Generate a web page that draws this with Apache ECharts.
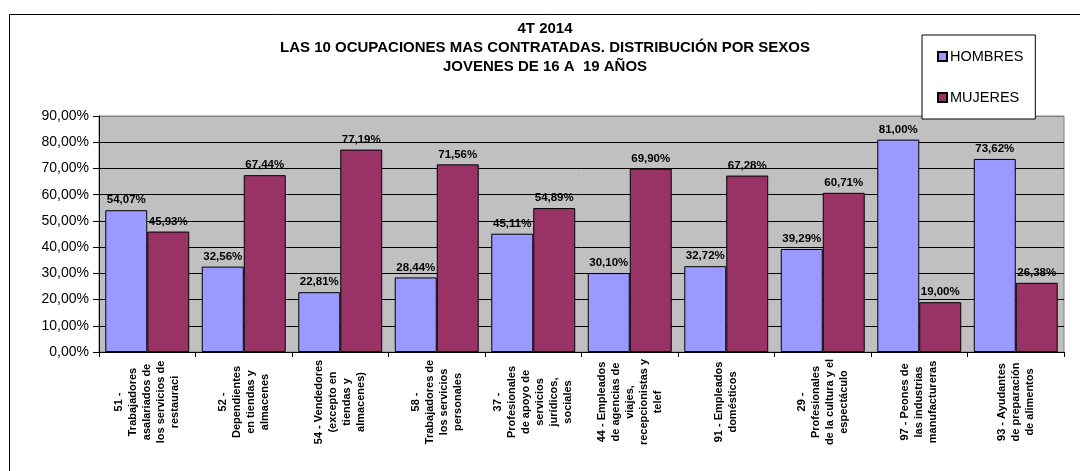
<!DOCTYPE html>
<html>
<head>
<meta charset="utf-8">
<script src="https://cdn.jsdelivr.net/npm/echarts@6/dist/echarts.min.js"></script>
<style>
  html, body { margin: 0; padding: 0; background: #fff; }
  #chart { width: 1080px; height: 471px; }
</style>
</head>
<body>
<div id="chart"></div>
<script>
const categories = [
  '51 -\nTrabajadores\nasalariados de\nlos servicios de\nrestauraci',
  '52 -\nDependientes\nen tiendas y\nalmacenes',
  '54 - Vendedores\n(excepto en\ntiendas y\nalmacenes)',
  '58 -\nTrabajadores de\nlos servicios\npersonales',
  '37 -\nProfesionales\nde apoyo de\nservicios\njurídicos,\nsociales',
  '44 - Empleados\nde agencias de\nviajes,\nrecepcionistas y\ntelef',
  '91 - Empleados\ndomésticos',
  '29 -\nProfesionales\nde la cultura y el\nespectáculo',
  '97 - Peones de\nlas industrias\nmanufactureras',
  '93 - Ayudantes\nde preparación\nde alimentos',
]
const hombres = [54.07, 32.56, 22.81, 28.44, 45.11, 30.10, 32.72, 39.29, 81.00, 73.62]
const mujeres = [45.93, 67.44, 77.19, 71.56, 54.89, 69.90, 67.28, 60.71, 19.00, 26.38]

const FONT = '"Liberation Sans", Arial, sans-serif'
const pct = (v) => v.toFixed(2).replace('.', ',') + '%'

const chart = echarts.init(document.getElementById('chart'), null, { renderer: 'canvas' })

const barLabel = {
  show: true,
  position: 'top',
  distance: 4,
  fontFamily: FONT,
  fontSize: 11.5,
  fontWeight: 'bold',
  color: '#000',
  formatter: (p) => pct(p.value),
}

chart.setOption({
  backgroundColor: '#fff',
  animation: false,
  title: {
    text: '4T 2014\nLAS 10 OCUPACIONES MAS CONTRATADAS. DISTRIBUCIÓN POR SEXOS\nJOVENES DE 16 A  19 AÑOS',
    left: 545,
    top: 19,
    textAlign: 'center',
    padding: 0,
    textStyle: { fontFamily: FONT, fontSize: 15, fontWeight: 'bold', color: '#000', lineHeight: 19 },
  },
  legend: {
    orient: 'vertical',
    left: 922,
    top: 35,
    padding: [14, 12, 14, 15],
    itemGap: 26,
    itemWidth: 9,
    itemHeight: 9,
    icon: 'rect',
    backgroundColor: '#fff',
    borderColor: '#000',
    borderWidth: 1,
    borderRadius: 0,
    textStyle: { fontFamily: FONT, fontSize: 14.5, color: '#000', padding: [0, 0, 0, -2] },
  },
  grid: {
    left: 99, right: 16, top: 116, bottom: 119,
    show: true,
    backgroundColor: '#c0c0c0',
    borderColor: '#808080',
    borderWidth: 1,
  },
  xAxis: {
    type: 'category',
    data: categories,
    axisLine: { lineStyle: { color: '#000', width: 1 } },
    axisTick: { show: true, length: 5, lineStyle: { color: '#000' } },
    axisLabel: {
      interval: 0,
      rotate: 90,
      align: 'center',
      verticalAlign: 'middle',
      margin: 50,
      fontFamily: FONT,
      fontSize: 11,
      fontWeight: 'bold',
      lineHeight: 14,
      color: '#000',
    },
  },
  yAxis: {
    type: 'value',
    min: 0,
    max: 90,
    interval: 10,
    axisLine: { show: true, lineStyle: { color: '#000', width: 1 } },
    axisTick: { show: true, length: 6, lineStyle: { color: '#000' } },
    axisLabel: { fontFamily: FONT, fontSize: 14, color: '#000', margin: 10, formatter: (v) => pct(v) },
    splitLine: {
      show: true,
      lineStyle: { color: ['#000', '#000', '#000', '#000', '#000', '#000', '#000', '#000', '#000', '#808080'], width: 1 },
    },
  },
  series: [
    {
      name: 'HOMBRES',
      type: 'bar',
      data: hombres,
      barGap: '0%',
      barCategoryGap: '13%',
      itemStyle: { color: '#9999ff', borderColor: '#000', borderWidth: 1 },
      label: barLabel,
    },
    {
      name: 'MUJERES',
      type: 'bar',
      data: mujeres,
      barGap: '0%',
      barCategoryGap: '13%',
      itemStyle: { color: '#993366', borderColor: '#000', borderWidth: 1 },
      label: barLabel,
    },
  ],
  graphic: [
    {
      type: 'rect',
      left: 7,
      top: 12,
      shape: { width: 1100, height: 500 },
      style: { fill: 'none', stroke: '#000', lineWidth: 1 },
      silent: true,
      z: -1,
    },
  ],
})

window.addEventListener('resize', () => chart.resize())
</script>
</body>
</html>
